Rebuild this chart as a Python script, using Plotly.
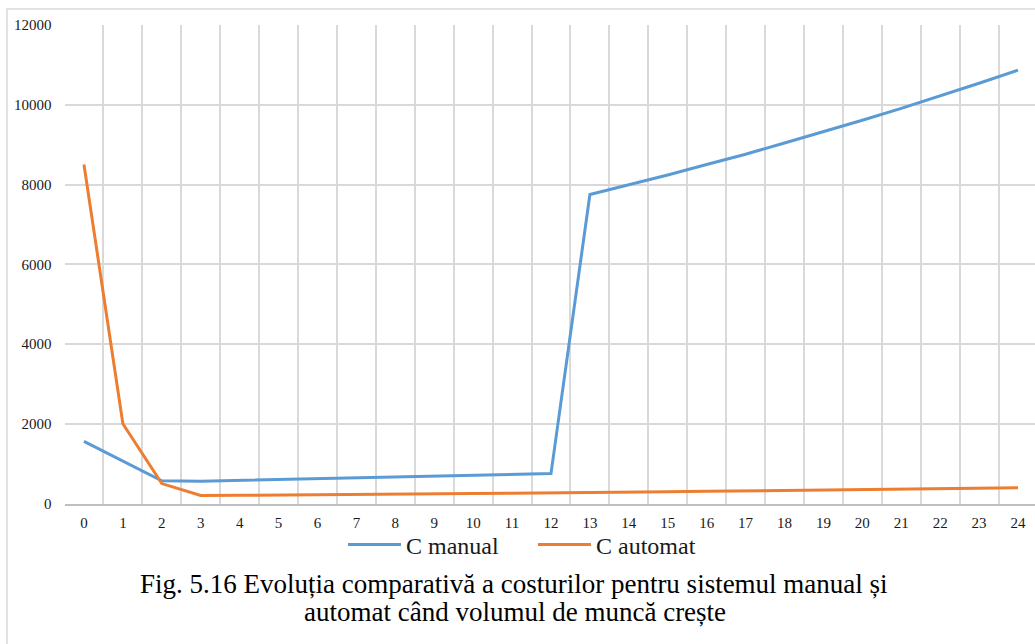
import plotly.graph_objects as go

# Work volume steps on the category axis
steps = list(range(25))

# Cost of the manual system
c_manual = [1560, 1065, 570, 560, 580, 600, 620, 640, 660, 680, 700, 725, 750,
            7750, 7990, 8240, 8500, 8760, 9040, 9320, 9610, 9910, 10220, 10540, 10870]

# Cost of the automated system
c_automat = [8500, 2000, 500, 200, 205, 210, 220, 225, 235, 240, 250, 260, 265,
             280, 290, 295, 305, 315, 325, 335, 345, 355, 370, 380, 395]

y_ticks = [0, 2000, 4000, 6000, 8000, 10000, 12000]
y_labels = [str(v) for v in y_ticks]

W, H = 1035, 644
grid = "#d9d9d9"
serif = "Liberation Serif, Times New Roman, serif"

fig = go.Figure()
fig.add_trace(go.Scatter(x=steps, y=c_manual, mode="lines", name="C manual",
                         line=dict(color="#5b9bd5", width=3)))
fig.add_trace(go.Scatter(x=steps, y=c_automat, mode="lines", name="C automat",
                         line=dict(color="#ed7d31", width=3)))

fig.update_layout(
    width=W, height=H,
    margin=dict(l=0, r=0, t=0, b=0),
    paper_bgcolor="white", plot_bgcolor="white",
    font=dict(family=serif, color="#1a1a1a"),
    showlegend=True,
    legend=dict(orientation="h", x=533 / W, xanchor="center",
                y=1 - 545 / H, yanchor="middle",
                font=dict(size=24, family=serif, color="#1a1a1a"),
                itemwidth=53, entrywidth=122, entrywidthmode="pixels",
                tracegroupgap=0, bgcolor="rgba(0,0,0,0)"),
    xaxis=dict(domain=[64.5 / W, 1], range=[-0.5, 24 + (W - 1018) / 38.92],
               automargin=False,
               tickmode="linear", tick0=0, dtick=1, showgrid=False,
               minor=dict(tickmode="linear", tick0=-0.5, dtick=1, showgrid=True,
                          gridcolor=grid, gridwidth=1.5, ticks=""),
               showline=True, linecolor="#bfbfbf", linewidth=1.5,
               zeroline=False, ticks="", ticklabelstandoff=5,
               tickfont=dict(size=15, family=serif, color="#1a1a1a")),
    yaxis=dict(domain=[(H - 503.5) / H, (H - 25) / H], range=[0, 12000],
               automargin=False,
               tickmode="array", tickvals=y_ticks, ticktext=y_labels,
               showgrid=True, gridcolor=grid, gridwidth=1.5,
               zeroline=False, showline=False, ticks="", ticklabelstandoff=12,
               tickfont=dict(size=15, family=serif, color="#1a1a1a")),
    shapes=[dict(type="rect", xref="paper", yref="paper",
                 x0=7 / W, x1=1.2, y0=-0.2, y1=1 - 9 / H,
                 line=dict(color=grid, width=1.5), fillcolor="rgba(0,0,0,0)",
                 layer="below")],
    annotations=[
        dict(text="Fig. 5.16 Evoluția comparativă a costurilor pentru sistemul manual și",
             xref="paper", yref="paper", x=514 / W, y=1 - 584 / H,
             xanchor="center", yanchor="middle", showarrow=False,
             font=dict(size=27, family=serif, color="#000000")),
        dict(text="automat când volumul de muncă crește",
             xref="paper", yref="paper", x=515 / W, y=1 - 612 / H,
             xanchor="center", yanchor="middle", showarrow=False,
             font=dict(size=27, family=serif, color="#000000")),
    ],
)

fig.write_html("out.html")
